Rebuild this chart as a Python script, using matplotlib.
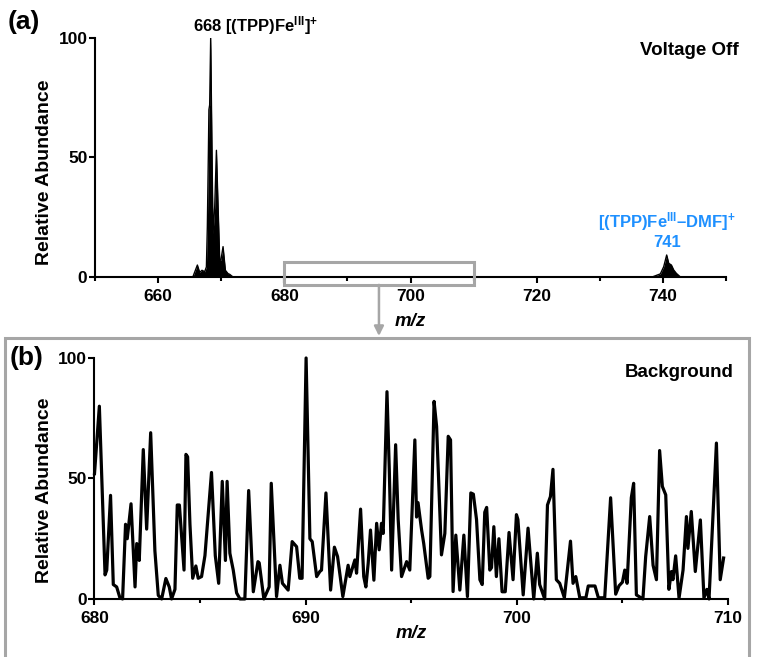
import matplotlib
matplotlib.use('Agg')
import matplotlib.pyplot as plt
from matplotlib.patches import Rectangle
from matplotlib.ticker import MultipleLocator

plt.rcParams['font.family'] = ['Liberation Sans', 'DejaVu Sans']
plt.rcParams['font.weight'] = 'bold'
plt.rcParams['mathtext.fontset'] = 'custom'
plt.rcParams['mathtext.rm'] = 'Liberation Sans:bold'
plt.rcParams['mathtext.bf'] = 'Liberation Sans:bold'
plt.rcParams['mathtext.default'] = 'rm'

# (a) voltage off spectrum, profile
top_mz = [650.0, 665.5, 666.22, 666.59, 666.95, 667.38, 667.65, 667.8, 667.97,
          668.05, 668.17, 668.33, 668.54, 668.7, 668.97, 669.24, 669.5, 669.76,
          669.95, 670.29, 670.66, 671.08, 671.35, 671.87,
          738.3, 739.6, 740.13, 740.6, 740.93, 741.35, 741.72, 742.14, 742.78, 750.0]
top_ab = [0, 0, 5, 1.9, 2.8, 2.2, 4.2, 21, 53,
          70, 72, 100, 52, 18, 29.5, 53, 29.5, 7,
          7, 12.7, 2.8, 1.4, 1.1, 0,
          0, 1.3, 4.3, 9.2, 5.7, 5, 2.9, 1.5, 0, 0]

# (b) background, 680-710
bg_mz = [680.00, 680.23, 680.34, 680.50, 680.58, 680.76, 680.89, 681.05, 681.20, 681.33,
         681.47, 681.55, 681.73, 681.92, 682.00, 682.12, 682.31, 682.47, 682.66, 682.86,
         683.02, 683.18, 683.38, 683.54, 683.65, 683.81, 683.92, 684.02, 684.24, 684.33,
         684.41, 684.52, 684.65, 684.80, 684.91, 685.07, 685.23, 685.54, 685.72, 685.88,
         686.05, 686.20, 686.28, 686.41, 686.57, 686.73, 686.89, 687.12, 687.30, 687.52,
         687.74, 687.80, 688.02, 688.27, 688.37, 688.62, 688.78, 688.90, 689.17, 689.36,
         689.57, 689.72, 689.83, 690.02, 690.20, 690.31, 690.52, 690.67, 690.75, 690.96,
         691.18, 691.36, 691.51, 691.76, 692.01, 692.09, 692.33, 692.41, 692.60, 692.75,
         692.85, 692.96, 693.07, 693.23, 693.36, 693.48, 693.59, 693.67, 693.85, 693.96,
         694.07, 694.26, 694.38, 694.54, 694.78, 694.93, 695.17, 695.25, 695.32, 695.49,
         695.59, 695.80, 695.88, 696.08, 696.20, 696.43, 696.59, 696.75, 696.86, 696.98,
         697.11, 697.30, 697.49, 697.66, 697.82, 697.94, 698.09, 698.25, 698.36, 698.48,
         698.57, 698.72, 698.80, 698.91, 699.03, 699.15, 699.30, 699.45, 699.63, 699.82,
         699.98, 700.05, 700.30, 700.53, 700.80, 700.97, 701.08, 701.32, 701.45, 701.59,
         701.71, 701.87, 702.03, 702.25, 702.54, 702.66, 702.79, 702.98, 703.27, 703.38,
         703.70, 703.86, 704.16, 704.44, 704.68, 704.84, 705.00, 705.11, 705.22, 705.42,
         705.53, 705.66, 705.97, 706.10, 706.29, 706.45, 706.61, 706.76, 706.89, 707.05,
         707.20, 707.32, 707.39, 707.52, 707.68, 707.87, 708.03, 708.10, 708.26, 708.45,
         708.69, 708.86, 709.00, 709.10, 709.45, 709.63, 709.79]
bg_ab = [52, 80, 51, 10, 12, 43, 6, 5, 0.6, 0,
         31, 25, 39.5, 5, 23, 16, 62, 29, 69, 20,
         1.5, 0, 8.5, 5, 0, 4, 39, 39, 12, 60,
         59, 31, 8.6, 13.7, 8.6, 9.3, 18, 52.5, 18, 6.5,
         48.8, 16, 48.8, 19, 12, 2.5, 0, 0, 45, 3,
         15.5, 15, 0, 5, 48, 1, 14, 6.5, 3.7, 23.8,
         21.7, 8.6, 8.6, 100, 25, 23.8, 9.3, 11.4, 12, 44,
         3.7, 21.5, 17.6, 1, 14, 9.3, 16.2, 10.7, 37.3, 9.3,
         5, 14.8, 28.6, 7.8, 31.4, 20.4, 31.4, 27.2, 86, 53.6,
         12, 64, 33, 9.3, 15.5, 12, 66, 34, 40, 28.6,
         23, 8.6, 9.3, 82, 71.6, 18.3, 27.2, 67.5, 66, 3.1,
         26.5, 3.7, 26.5, 1, 44, 43.5, 33, 8, 6, 36,
         38, 12, 13, 30, 9.3, 25, 3, 3, 27.6, 8,
         35, 33, 1.7, 29.4, 0, 19, 6, 0, 39, 42.5,
         53.8, 8, 6.5, 0.5, 24, 6.5, 9.3, 0.5, 0.5, 5.4,
         5.4, 0.5, 0.5, 42, 2, 5.5, 7, 12, 6.5, 42,
         48, 1.7, 0, 17.6, 34.2, 14, 8, 61.6, 46.7, 43.2,
         4, 11.4, 8, 17.9, 0.4, 12, 34.2, 21, 36.3, 11.4,
         32.8, 0.4, 4, 0, 64.7, 8, 17]

zoom_lo, zoom_hi = 680, 710
grey = '#A6A6A6'
blue = '#1E90FF'

fig = plt.figure(figsize=(7.59, 6.57), dpi=100)
ax1 = fig.add_axes([0.1252, 0.5784, 0.8313, 0.3638])
ax2 = fig.add_axes([0.1245, 0.0883, 0.8347, 0.3668])

for ax in (ax1, ax2):
    for s in ('top', 'right'):
        ax.spines[s].set_visible(False)
    for s in ('left', 'bottom'):
        ax.spines[s].set_linewidth(1.5)
    ax.tick_params(which='major', length=4, width=1.5, labelsize=12.5, direction='out')
    ax.tick_params(which='minor', length=3, width=1.5, direction='out')
    ax.tick_params(axis='x', pad=4.5)
    ax.tick_params(axis='y', pad=1.5)
    ax.set_ylim(0, 100)
    ax.set_yticks([0, 50, 100])

# panel (a)
ax1.fill_between(top_mz, top_ab, 0, color='black', lw=0)
ax1.plot(top_mz, top_ab, color='black', lw=1.0)
ax1.set_xlim(650, 750)
ax1.xaxis.set_major_locator(MultipleLocator(20))
ax1.xaxis.set_minor_locator(MultipleLocator(10))
ax1.set_xlabel('m/z', fontsize=13.5, fontstyle='italic', fontweight='bold')
ax1.xaxis.set_label_coords(0.5, -0.151)
ax1.set_ylabel('Relative Abundance', fontsize=14, fontweight='bold')
ax1.yaxis.set_label_coords(-0.0666, 0.44)

ax1.text(0.255, 1.029, r'668 [(TPP)Fe$^{\rm III}$]$^{+}$', transform=ax1.transAxes,
         ha='center', va='baseline', fontsize=12)
ax1.text(1.0206, 0.927, 'Voltage Off', transform=ax1.transAxes,
         ha='right', va='baseline', fontsize=13.5)
ax1.text(0.907, 0.209, r'[(TPP)Fe$^{\rm III}$–DMF]$^{+}$', transform=ax1.transAxes,
         ha='center', va='baseline', fontsize=12, color=blue)
ax1.text(0.9065, 0.124, '741', transform=ax1.transAxes,
         ha='center', va='baseline', fontsize=12, color=blue)

# zoom box and arrow
ax1.add_patch(Rectangle((zoom_lo, -3.3), zoom_hi - zoom_lo, 9.7, fill=False,
                        ec=grey, lw=2.2, clip_on=False, zorder=5))
ax1.annotate('', xy=((zoom_lo + zoom_hi) / 2, -24.7),
             xytext=((zoom_lo + zoom_hi) / 2, -3.3),
             arrowprops=dict(arrowstyle='-|>', color=grey, lw=1.8,
                             mutation_scale=14, shrinkA=0, shrinkB=0),
             annotation_clip=False)

# panel (b)
ax2.plot(bg_mz, bg_ab, color='black', lw=2.3, solid_joinstyle='round', clip_on=False)
ax2.set_xlim(zoom_lo, zoom_hi)
ax2.xaxis.set_major_locator(MultipleLocator(10))
ax2.xaxis.set_minor_locator(MultipleLocator(5))
ax2.set_xlabel('m/z', fontsize=13.5, fontstyle='italic', fontweight='bold')
ax2.xaxis.set_label_coords(0.5, -0.108)
ax2.set_ylabel('Relative Abundance', fontsize=14, fontweight='bold')
ax2.yaxis.set_label_coords(-0.0655, 0.452)
ax2.text(1.0095, 0.921, 'Background', transform=ax2.transAxes,
         ha='right', va='baseline', fontsize=13.5)

fig.add_artist(Rectangle((5 / 759, -0.01), 744 / 759, (657 - 338) / 657 + 0.01,
                         transform=fig.transFigure, fill=False, ec=grey, lw=2.2))

fig.text(8 / 759, 1 - 22 / 657, '(a)', ha='left', va='center', fontsize=19)
fig.text(10 / 759, 1 - 358 / 657, '(b)', ha='left', va='center', fontsize=19)

plt.savefig('out.png', dpi=100)
